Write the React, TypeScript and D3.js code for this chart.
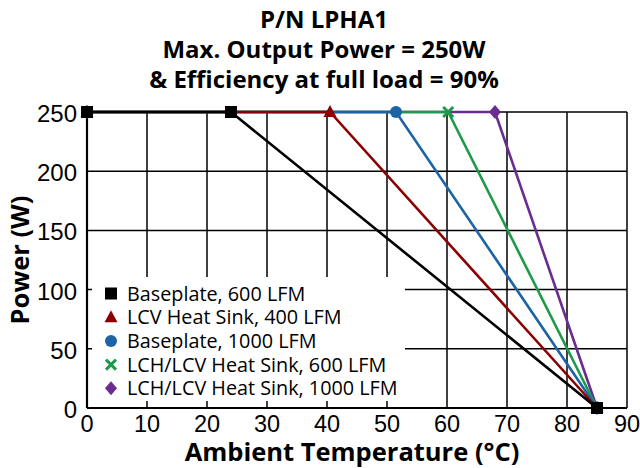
import React from "react";
import * as d3 from "d3";

const title = ["P/N LPHA1", "Max. Output Power = 250W", "& Efficiency at full load = 90%"];
const xTicks = [0, 10, 20, 30, 40, 50, 60, 70, 80, 90];
const yTicks = [0, 50, 100, 150, 200, 250];

const seriesNames = [
  "Baseplate, 600 LFM",
  "LCV Heat Sink, 400 LFM",
  "Baseplate, 1000 LFM",
  "LCH/LCV Heat Sink, 600 LFM",
  "LCH/LCV Heat Sink, 1000 LFM",
];
const seriesColors = ["#000000", "#8b0000", "#1c64a6", "#1d9a4a", "#6a2c91"];
const seriesMarkers = ["square", "triangle", "circle", "cross", "diamond"];
// derating points: temperature (°C) and power (W)
const seriesTemps = [
  [0, 24, 85],
  [0, 40.5, 85],
  [0, 51.5, 85],
  [0, 60.2, 85],
  [0, 68, 85],
];
const seriesPowers = [
  [250, 250, 0],
  [250, 250, 0],
  [250, 250, 0],
  [250, 250, 0],
  [250, 250, 0],
];

const margin = { left: 87, right: 13, top: 112, bottom: 60 };
const W = 640;
const H = 468;

const Marker = ({ kind, x, y, color }: { kind: string; x: number; y: number; color: string }) => {
  if (kind === "square") return <rect x={x - 6} y={y - 6} width={12} height={12} fill={color} />;
  if (kind === "triangle") return <path d={`M${x},${y - 7}L${x + 6.5},${y + 5}L${x - 6.5},${y + 5}Z`} fill={color} />;
  if (kind === "circle") return <circle cx={x} cy={y} r={6} fill={color} />;
  if (kind === "diamond") return <path d={`M${x},${y - 7}L${x + 6},${y}L${x},${y + 7}L${x - 6},${y}Z`} fill={color} />;
  return (
    <g stroke={color} strokeWidth={3}>
      <line x1={x - 5} y1={y - 5} x2={x + 5} y2={y + 5} />
      <line x1={x - 5} y1={y + 5} x2={x + 5} y2={y - 5} />
    </g>
  );
};

export default function App() {
  const x = d3.scaleLinear().domain([0, 90]).range([margin.left, W - margin.right]);
  const y = d3.scaleLinear().domain([0, 250]).range([H - margin.bottom, margin.top]);
  const line = d3
    .line<[number, number]>()
    .x((d) => x(d[0]))
    .y((d) => y(d[1]));

  const font = "'Open Sans', 'Noto Sans', sans-serif";
  const tickFont = "'Liberation Sans', Arial, sans-serif";
  const legendBox = { x0: 92, y0: 277, x1: 405, y1: 401 };
  const order = [4, 3, 2, 1, 0];

  return (
    <svg width={W} height={H} style={{ position: "absolute", left: 0, top: 0 }}>
      <rect width={W} height={H} fill="#fff" />
      {title.map((t, i) => (
        <text key={i} x={324} y={28 + i * 30} textAnchor="middle" fontFamily={font} fontWeight="bold" fontSize={24}>
          {t}
        </text>
      ))}
      <g stroke="#000" strokeWidth={1.5}>
        {xTicks.map((t) => (
          <line key={"x" + t} x1={x(t)} x2={x(t)} y1={y(0)} y2={y(250)} />
        ))}
        {yTicks.map((t) => (
          <line key={"y" + t} x1={x(0)} x2={x(90)} y1={y(t)} y2={y(t)} />
        ))}
      </g>
      <rect
        x={legendBox.x0}
        y={legendBox.y0}
        width={legendBox.x1 - legendBox.x0}
        height={legendBox.y1 - legendBox.y0}
        fill="#fff"
      />
      <line x1={x(0)} x2={x(90)} y1={y(0)} y2={y(0)} stroke="#000" strokeWidth={2.2} />
      <line x1={x(0)} x2={x(0)} y1={y(0)} y2={y(250)} stroke="#000" strokeWidth={2.2} />
      {order.map((i) => {
        const pts = seriesTemps[i].map((t, j) => [t, seriesPowers[i][j]] as [number, number]);
        return (
          <g key={i}>
            <path d={line(pts) || ""} fill="none" stroke={seriesColors[i]} strokeWidth={2.6} />
            {pts.map((p, j) => (
              <Marker key={j} kind={seriesMarkers[i]} x={x(p[0])} y={y(p[1])} color={seriesColors[i]} />
            ))}
          </g>
        );
      })}
      {xTicks.map((t) => (
        <text key={"xt" + t} x={x(t)} y={y(0) + 23.5} textAnchor="middle" fontFamily={tickFont} fontSize={23.5}>
          {t}
        </text>
      ))}
      {yTicks.map((t) => (
        <text key={"yt" + t} x={x(0) - 10} y={y(t) + 10} textAnchor="end" fontFamily={tickFont} fontSize={24}>
          {t}
        </text>
      ))}
      <text x={352} y={461} textAnchor="middle" fontFamily={font} fontWeight="bold" fontSize={25.5}>
        Ambient Temperature (°C)
      </text>
      <text
        transform={`translate(29,${(y(0) + y(250)) / 2}) rotate(-90)`}
        textAnchor="middle"
        fontFamily={font}
        fontWeight="bold"
        fontSize={25.5}
      >
        Power (W)
      </text>
      {seriesNames.map((n, i) => (
        <g key={n} transform={`translate(111,${293.5 + i * 23.7})`}>
          <Marker kind={seriesMarkers[i]} x={0} y={0} color={seriesColors[i]} />
          <text x={16} y={7} fontFamily={font} fontSize={19.8}>
            {n}
          </text>
        </g>
      ))}
    </svg>
  );
}
